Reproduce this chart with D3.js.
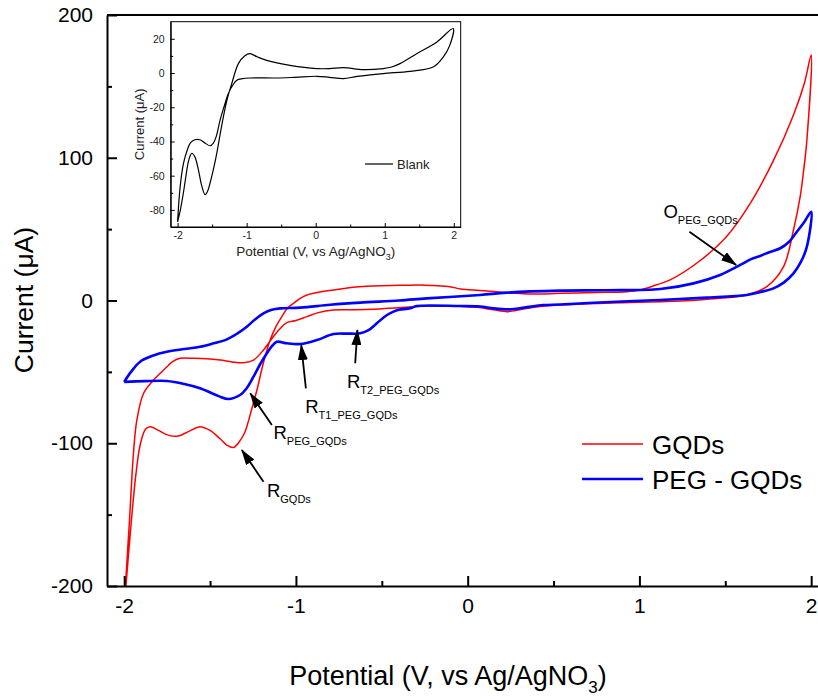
<!DOCTYPE html>
<html>
<head>
<meta charset="utf-8">
<script src="https://cdn.jsdelivr.net/npm/d3@7"></script>
<style>
  html, body { margin: 0; padding: 0; background: #fff; }
  svg { display: block; font-family: "Liberation Sans", Arial, sans-serif; }
</style>
</head>
<body>
<svg id="chart" width="818" height="699"></svg>
<script>
// Cyclic voltammograms: [potential (V), current (µA)] traced around each closed loop
const gqds = [
  [-2.0,-215],[-1.955,-150],[-1.93,-120],[-1.905,-100],[-1.875,-90],[-1.849,-88.4],[-1.80,-91],
  [-1.74,-94.5],[-1.684,-94.9],[-1.62,-91.5],[-1.558,-88.4],[-1.50,-91],[-1.44,-97],[-1.40,-101.5],
  [-1.364,-103],[-1.33,-99],[-1.30,-93],[-1.286,-88.4],[-1.255,-75],[-1.227,-62.7],[-1.19,-44],
  [-1.15,-27.7],[-1.115,-18],[-1.082,-11.3],[-1.05,-5.5],[-1.014,-2],[-0.975,1.5],[-0.936,3.9],
  [-0.86,6],[-0.781,7.4],[-0.65,9.5],[-0.548,10.2],[-0.40,10.6],[-0.277,10.9],[-0.20,10.5],
  [-0.102,9.7],[-0.04,8],[0.073,7],[0.228,5.5],[0.345,4.6],[0.539,5],[0.75,5.6],[0.927,6.2],
  [1.004,7.4],[1.10,11],[1.179,14.4],[1.354,28],[1.509,45],[1.645,68],[1.78,98],[1.897,130],
  [1.96,152],[2.0,172],
  [1.975,112.4],[1.955,90],[1.936,72.7],[1.897,49.4],[1.839,23.7],[1.742,9.7],[1.625,3.9],
  [1.47,1.5],[1.30,0],[1.12,-0.8],[0.90,-1.5],[0.70,-2.2],[0.539,-3.2],[0.40,-4.5],[0.345,-5.5],
  [0.28,-7],[0.228,-7.8],[0.15,-6.5],[0.054,-4.8],[-0.05,-4],[-0.238,-3.9],[-0.40,-5],[-0.548,-6.2],
  [-0.70,-6.5],[-0.781,-6.7],[-0.87,-8.5],[-0.936,-11.3],[-1.00,-14],[-1.053,-15.5],[-1.095,-20],
  [-1.131,-25.3],[-1.16,-30],[-1.189,-34.7],[-1.247,-41.7],[-1.305,-43.6],[-1.37,-43],[-1.441,-41.7],
  [-1.52,-40.8],[-1.597,-40.5],[-1.674,-40.5],[-1.72,-43],[-1.751,-46.4],[-1.79,-51],[-1.829,-55.7],
  [-1.887,-65],[-1.926,-83.7],[-1.946,-107],[-1.969,-153.8],[-1.985,-185],[-2.0,-215]
];

const pegGqds = [
  [-2.0,-57],[-1.96,-50],[-1.907,-42.9],[-1.83,-38.5],[-1.751,-35.9],[-1.65,-34],[-1.558,-32.4],
  [-1.48,-30],[-1.402,-27.2],[-1.34,-23],[-1.286,-18.4],[-1.24,-13.5],[-1.189,-9],[-1.14,-6.5],
  [-1.092,-5.5],[-0.975,-5],[-0.80,-3],[-0.626,-1.5],[-0.40,0],[-0.238,1.5],[0.073,3.9],[0.228,5.5],
  [0.539,6.9],[0.80,7.2],[1.121,8],[1.315,12],[1.47,17.9],[1.587,24.9],[1.65,29],[1.703,31.2],
  [1.76,34],[1.82,36.6],[1.87,41],[1.917,48.2],[1.96,55],[2.0,62.2],
  [1.975,37.7],[1.94,27],[1.897,19],[1.84,12.5],[1.78,8.5],[1.70,5.8],[1.625,3.9],[1.393,2],
  [1.12,0.4],[0.80,-1.2],[0.539,-2.8],[0.44,-3.2],[0.33,-5],[0.247,-6.2],[0.15,-5.5],[0.073,-4.2],
  [-0.044,-3.9],[-0.296,-3.9],[-0.335,-5.5],[-0.40,-6.5],[-0.432,-7.8],[-0.48,-11],[-0.529,-16],
  [-0.58,-21],[-0.626,-23],[-0.70,-23.2],[-0.781,-23.5],[-0.878,-27.7],[-0.975,-30.5],[-1.053,-30],
  [-1.111,-28.9],[-1.14,-32],[-1.169,-37],[-1.21,-45],[-1.247,-53.4],[-1.29,-62],[-1.325,-66.2],
  [-1.393,-69],[-1.45,-67],[-1.558,-61.5],[-1.65,-58.5],[-1.751,-56.4],[-1.88,-56.5],[-2.0,-57]
];

const blank = [
  [-2.0,-87],[-1.96,-80],[-1.92,-71],[-1.886,-62],[-1.85,-53],[-1.82,-48.5],[-1.795,-46.9],
  [-1.75,-49],[-1.699,-56.6],[-1.65,-66],[-1.602,-71.1],[-1.565,-69],[-1.53,-64.3],[-1.48,-56],
  [-1.433,-46.9],[-1.385,-36],[-1.337,-25.6],[-1.28,-15],[-1.216,-6.2],[-1.12,5.5],[-1.03,10],
  [-0.951,11.3],[-0.85,9.5],[-0.709,7.4],[-0.372,4.5],[0.014,2.6],[0.2,2.6],[0.4,3.2],[0.689,2],
  [0.978,2.6],[1.1,3.5],[1.22,5.5],[1.462,11.3],[1.751,18],[1.991,26],
  [1.94,16],[1.847,9.3],[1.702,3.5],[1.365,1],[0.978,-0.3],[0.6,-2],[0.4,-3.3],[0.2,-2.5],
  [0.014,-1.9],[-0.3,-2.5],[-0.564,-2.9],[-0.951,-2.9],[-1.06,-3.3],[-1.143,-4.2],[-1.2,-7],
  [-1.265,-12],[-1.33,-20],[-1.385,-27.5],[-1.44,-37],[-1.482,-41],[-1.53,-42.5],[-1.6,-41],
  [-1.675,-39],[-1.75,-39],[-1.817,-41],[-1.86,-45],[-1.914,-52.7],[-1.963,-66.4],[-2.0,-87]
];

// Axis ticks
const xTicks = [-2, -1, 0, 1, 2];
const xMinorTicks = [-1.5, -0.5, 0.5, 1.5];
const yTicks = [-200, -100, 0, 100, 200];
const yMinorTicks = [-150, -50, 50, 150];
const insetYTicks = [-80, -60, -40, -20, 0, 20];
const insetYMinorTicks = [-70, -50, -30, -10, 10];

// Legend entries
const seriesNames = ["GQDs", "PEG - GQDs"];
const seriesColors = ["#ff0000", "#0000ff"];
const seriesWidths = [1.5, 2.6];

// Peak annotations: label, subscript, label anchor, arrow tail, arrow head (data units)
const annotations = [
  { main: "R", sub: "GQDs",        label: [-1.169,-137.4], tail: [-1.189,-126.9], head: [-1.315,-104.7] },
  { main: "R", sub: "PEG_GQDs",    label: [-1.131,-97.2],  tail: [-1.14,-87.2],   head: [-1.266,-65] },
  { main: "R", sub: "T1_PEG_GQDs", label: [-0.946,-79],    tail: [-0.942,-61.5],  head: [-0.969,-31.2] },
  { main: "R", sub: "T2_PEG_GQDs", label: [-0.703,-61.5],  tail: [-0.655,-44],    head: [-0.642,-20.7] },
  { main: "O", sub: "PEG_GQDs",    label: [1.14,57.6],     tail: [1.291,48.2],    head: [1.563,24.9] }
];

const svg = d3.select("#chart");

// ---------- main panel ----------
const x = d3.scaleLinear().domain([-2.1, 2.1]).range([107, 828.35]);
const y = d3.scaleLinear().domain([-200, 200]).range([586, 15]);

const defs = svg.append("defs");
defs.append("clipPath").attr("id", "plotClip")
  .append("rect").attr("x", x.range()[0]).attr("y", y.range()[1])
  .attr("width", x.range()[1] - x.range()[0]).attr("height", y.range()[0] - y.range()[1]);

defs.append("marker")
  .attr("id", "arrowHead").attr("viewBox", "0 0 16 10")
  .attr("refX", 15).attr("refY", 5)
  .attr("markerWidth", 16).attr("markerHeight", 10)
  .attr("markerUnits", "userSpaceOnUse").attr("orient", "auto")
  .append("path").attr("d", "M0,0 L16,5 L0,10 Z").attr("fill", "#000");

const line = d3.line().x(d => x(d[0])).y(d => y(d[1])).curve(d3.curveCatmullRom.alpha(0.5));

const plot = svg.append("g").attr("clip-path", "url(#plotClip)");
[gqds, pegGqds].forEach((data, i) => {
  plot.append("path").datum(data)
    .attr("d", line)
    .attr("fill", "none")
    .attr("stroke", seriesColors[i])
    .attr("stroke-width", seriesWidths[i])
    .attr("stroke-linejoin", "round");
});

// frame top edge
svg.append("line")
  .attr("x1", x.range()[0]).attr("x2", x.range()[1])
  .attr("y1", y.range()[1]).attr("y2", y.range()[1])
  .attr("stroke", "#000").attr("stroke-width", 2);

function styleAxis(g, fontSize) {
  g.select(".domain").attr("stroke", "#000").attr("stroke-width", 2);
  g.selectAll(".tick line").attr("stroke", "#000").attr("stroke-width", 2);
  g.selectAll(".tick text").attr("fill", "#000").attr("font-size", fontSize)
    .attr("font-family", "Liberation Sans, Arial, sans-serif");
}

const fmt = d => d < 0 ? "-" + Math.abs(d) : String(d);

const xAxisG = svg.append("g").attr("transform", `translate(0,${y.range()[0]})`)
  .call(d3.axisBottom(x).tickValues(xTicks).tickFormat(fmt).tickSize(-10).tickSizeOuter(0).tickPadding(12));
styleAxis(xAxisG, 21);
const xMinorG = svg.append("g").attr("transform", `translate(0,${y.range()[0]})`)
  .call(d3.axisBottom(x).tickValues(xMinorTicks).tickFormat("").tickSize(-5).tickSizeOuter(0));
styleAxis(xMinorG, 21);
xMinorG.select(".domain").remove();

const yAxisG = svg.append("g").attr("transform", `translate(${x.range()[0]},0)`)
  .call(d3.axisLeft(y).tickValues(yTicks).tickFormat(fmt).tickSize(-10).tickSizeOuter(0).tickPadding(14));
styleAxis(yAxisG, 21);
const yMinorG = svg.append("g").attr("transform", `translate(${x.range()[0]},0)`)
  .call(d3.axisLeft(y).tickValues(yMinorTicks).tickFormat("").tickSize(-5).tickSizeOuter(0));
styleAxis(yMinorG, 21);
yMinorG.select(".domain").remove();

// axis titles
svg.append("text")
  .attr("transform", "translate(33,300) rotate(-90)")
  .attr("text-anchor", "middle").attr("font-size", 26.5).attr("fill", "#000")
  .text("Current (\u03bcA)");

const xTitle = svg.append("text")
  .attr("x", 448).attr("y", 685)
  .attr("text-anchor", "middle").attr("font-size", 27).attr("fill", "#000");
xTitle.append("tspan").text("Potential (V, vs Ag/AgNO");
xTitle.append("tspan").attr("font-size", 17).attr("dy", 8).text("3");
xTitle.append("tspan").attr("dy", -8).text(")");

// legend
const legend = svg.append("g");
seriesNames.forEach((name, i) => {
  const ly = 444 + i * 35;
  legend.append("line").attr("x1", 582).attr("x2", 643).attr("y1", ly).attr("y2", ly)
    .attr("stroke", seriesColors[i]).attr("stroke-width", seriesWidths[i]);
  legend.append("text").attr("x", 652).attr("y", ly + 9.5)
    .attr("font-size", 26).attr("fill", "#000").text(name);
});

// annotations
annotations.forEach(a => {
  svg.append("line")
    .attr("x1", x(a.tail[0])).attr("y1", y(a.tail[1]))
    .attr("x2", x(a.head[0])).attr("y2", y(a.head[1]))
    .attr("stroke", "#000").attr("stroke-width", 1.8)
    .attr("marker-end", "url(#arrowHead)");
  const t = svg.append("text").attr("x", x(a.label[0])).attr("y", y(a.label[1])).attr("fill", "#000");
  t.append("tspan").attr("font-size", 18.5).text(a.main);
  t.append("tspan").attr("font-size", 11).attr("dy", 6).text(a.sub);
});

// ---------- inset panel ----------
const ix = d3.scaleLinear().domain([-2.1, 2.1]).range([170.7, 460.7]);
const iy = d3.scaleLinear().domain([-90, 30]).range([227, 21.7]);

svg.append("rect")
  .attr("x", ix.range()[0]).attr("y", iy.range()[1])
  .attr("width", ix.range()[1] - ix.range()[0]).attr("height", iy.range()[0] - iy.range()[1])
  .attr("fill", "#fff").attr("stroke", "#000").attr("stroke-width", 1);

const iline = d3.line().x(d => ix(d[0])).y(d => iy(d[1])).curve(d3.curveCatmullRom.alpha(0.5));
svg.append("path").datum(blank).attr("d", iline)
  .attr("fill", "none").attr("stroke", "#000").attr("stroke-width", 1.2);

function styleInset(g) {
  g.select(".domain").attr("stroke", "#000").attr("stroke-width", 1);
  g.selectAll(".tick line").attr("stroke", "#000").attr("stroke-width", 1);
  g.selectAll(".tick text").attr("fill", "#222").attr("font-size", 10.5)
    .attr("font-family", "Liberation Sans, Arial, sans-serif");
}

const ixAxis = svg.append("g").attr("transform", `translate(0,${iy.range()[0]})`)
  .call(d3.axisBottom(ix).tickValues(xTicks).tickFormat(fmt).tickSize(-4).tickSizeOuter(0).tickPadding(5));
styleInset(ixAxis);
const ixMinor = svg.append("g").attr("transform", `translate(0,${iy.range()[0]})`)
  .call(d3.axisBottom(ix).tickValues(xMinorTicks).tickFormat("").tickSize(-2.5).tickSizeOuter(0));
styleInset(ixMinor);
ixMinor.select(".domain").remove();

const iyAxis = svg.append("g").attr("transform", `translate(${ix.range()[0]},0)`)
  .call(d3.axisLeft(iy).tickValues(insetYTicks).tickFormat(fmt).tickSize(-4).tickSizeOuter(0).tickPadding(6));
styleInset(iyAxis);
const iyMinor = svg.append("g").attr("transform", `translate(${ix.range()[0]},0)`)
  .call(d3.axisLeft(iy).tickValues(insetYMinorTicks).tickFormat("").tickSize(-2.5).tickSizeOuter(0));
styleInset(iyMinor);
iyMinor.select(".domain").remove();

svg.append("text")
  .attr("transform", `translate(144,${(iy.range()[0] + iy.range()[1]) / 2}) rotate(-90)`)
  .attr("text-anchor", "middle").attr("font-size", 13).attr("fill", "#222")
  .text("Current (\u03bcA)");

const ixTitle = svg.append("text")
  .attr("x", (ix(-2) + ix(2)) / 2).attr("y", 256)
  .attr("text-anchor", "middle").attr("font-size", 13.5).attr("fill", "#222");
ixTitle.append("tspan").text("Potential (V, vs Ag/AgNO");
ixTitle.append("tspan").attr("font-size", 9).attr("dy", 4).text("3");
ixTitle.append("tspan").attr("dy", -4).text(")");

svg.append("line").attr("x1", 365).attr("x2", 393).attr("y1", 164).attr("y2", 164)
  .attr("stroke", "#000").attr("stroke-width", 1.2);
svg.append("text").attr("x", 397).attr("y", 168.5).attr("font-size", 13).attr("fill", "#222").text("Blank");
</script>
</body>
</html>
